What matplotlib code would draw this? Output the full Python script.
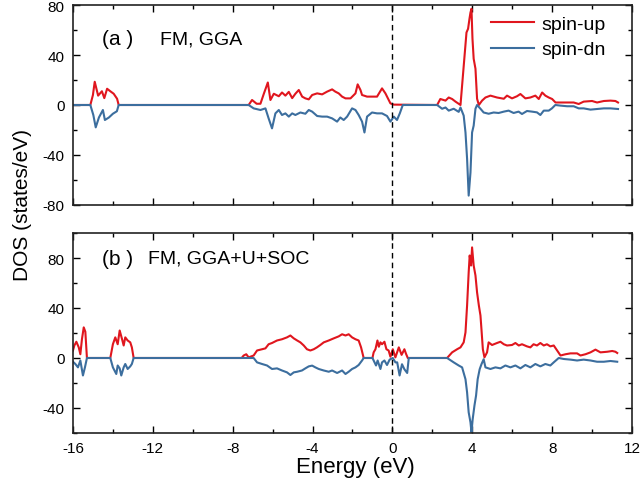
import matplotlib
matplotlib.use("Agg")
import matplotlib.pyplot as plt
from matplotlib.ticker import MultipleLocator

plt.rcParams['font.family'] = ['Liberation Sans', 'DejaVu Sans']
plt.rcParams['axes.unicode_minus'] = False

# ---- panel (a): FM, GGA ----
e_up_a = [-16.0, -15.13, -15.0, -14.91, -14.74, -14.55, -14.43, -14.29, -14.13, -13.96, -13.79, -13.71,
          -7.2, -7.03, -6.8, -6.61, -6.44, -6.24, -6.11, -5.94, -5.69, -5.53, -5.36, -5.19, -5.02,
          -4.86, -4.69, -4.52, -4.36, -4.19, -4.02, -3.77, -3.52, -3.27, -3.02, -2.86, -2.69, -2.52,
          -2.35, -2.1, -1.85, -1.74, -1.6, -1.52, -1.27, -1.02, -0.77, -0.52, -0.35, -0.1, 0.07,
          2.24, 2.4, 2.66, 2.82, 2.99, 3.16, 3.41, 3.57, 3.71, 3.79, 3.86, 3.91, 3.96, 4.01, 4.07,
          4.16, 4.24, 4.33, 4.49, 4.66, 4.91, 5.24, 5.58, 5.74, 5.99, 6.24, 6.41, 6.66, 6.91, 7.16,
          7.33, 7.5, 7.66, 7.83, 8.0, 8.17, 8.42, 8.75, 9.08, 9.33, 9.58, 10.0, 10.25, 10.59, 10.92,
          11.17, 11.3]
up_a = [0, 0, 8, 18.6, 7.5, 11, 5.5, 13, 11, 9, 5, 0,
        0, 4, 1, 1, 9, 18, 4, 9, 7, 10, 7.5, 10.5, 5.5,
        9, 12, 6.7, 5.3, 4.5, 8, 9.3, 8.5, 10.7, 12.5, 10.7, 9.3, 6.7,
        5.3, 5.3, 9.3, 16.5, 12, 8, 6.7, 6.7, 6.7, 13.3, 9.3, 1.3, 0.3,
        0, 4.8, 3.5, 6, 4.8, 2.7, 0, 31, 58, 61, 69, 74, 77, 53, 37,
        29, 5, 0, 3.5, 6, 7.5, 6, 5, 7.5, 5.3, 7, 8.8, 5.3, 6, 7.5,
        4.8, 10, 7.5, 6, 4.8, 2, 2, 2, 2, 0.8, 2.7, 3.2, 2, 3.2, 3.5,
        3.2, 2]

e_dn_a = [-16.0, -15.13, -14.98, -14.86, -14.7, -14.5, -14.4, -14.2, -14.0, -13.8, -13.71,
          -7.2, -6.95, -6.61, -6.36, -6.2, -6.03, -5.86, -5.69, -5.53, -5.36, -5.19, -5.02, -4.86,
          -4.61, -4.36, -4.19, -4.02, -3.77, -3.52, -3.27, -3.02, -2.77, -2.61, -2.44, -2.27, -2.02,
          -1.85, -1.69, -1.52, -1.4, -1.27, -1.02, -0.77, -0.52, -0.27, -0.1, 0.07, 0.23, 0.37, 0.52,
          2.24, 2.49, 2.66, 2.82, 3.07, 3.32, 3.41, 3.57, 3.66, 3.74, 3.82, 3.91, 3.99, 4.07, 4.16,
          4.24, 4.41, 4.57, 4.82, 5.07, 5.32, 5.58, 5.82, 6.07, 6.32, 6.49, 6.74, 6.99, 7.24, 7.41,
          7.58, 7.83, 7.99, 8.16, 8.42, 8.75, 9.08, 9.33, 9.58, 9.92, 10.25, 10.59, 10.92, 11.3]
dn_a = [0, 0, -8, -17.9, -10, -4, -12, -10, -7, -5, 0,
        0, -2.7, -4, -2.7, -10.7, -18.7, -6.7, -4, -8, -6.7, -9.3, -6.7, -8,
        -6, -7, -4, -5.3, -8.8, -9.3, -9.3, -10.7, -13.3, -10, -12, -9.3, -2.7,
        -4, -8, -13.3, -22, -9.3, -6, -6.7, -6.7, -8.8, -13.3, -9.3, -12, -6.7, 0,
        0, -3, -2, -4.5, -3, -5.5, -2, -8.5, -22, -43, -72.5, -54, -22, -16.5, -3,
        0, -3, -6, -7, -6, -6.4, -5.3, -4.5, -6.4, -5.3, -7.2, -4.8, -5.3, -5.9, -8,
        -4.5, -4.5, -2.7, 0, -0.5, -1, -1, -2.7, -2.7, -3.7, -3.2, -2.7, -2.7, -3.2]

# ---- panel (b): FM, GGA+U+SOC ----
e_up_b = [-16.0, -15.93, -15.83, -15.71, -15.63, -15.55, -15.46, -15.38, -15.3,
          -14.13, -14.0, -13.88, -13.76, -13.66, -13.54, -13.46, -13.38, -13.26, -13.13, -13.05, -12.96,
          -7.55, -7.45, -7.32, -7.2, -6.95, -6.78, -6.53, -6.36, -6.2, -6.03, -5.78, -5.53, -5.28,
          -5.11, -4.94, -4.77, -4.61, -4.44, -4.28, -4.11, -3.94, -3.78, -3.61, -3.44, -3.19, -2.94,
          -2.69, -2.52, -2.35, -2.19, -2.02, -1.85, -1.69, -1.57, -1.44,
          -1.0, -0.94, -0.85, -0.75, -0.68, -0.6, -0.52, -0.4, -0.3, -0.19, -0.1, 0.02, 0.15, 0.32,
          0.46, 0.6, 0.69, 0.77,
          2.74, 2.99, 3.24, 3.41, 3.57, 3.66, 3.74, 3.82, 3.87, 3.94, 3.99, 4.07, 4.16, 4.24, 4.33,
          4.41, 4.46, 4.53, 4.61, 4.74, 4.82, 4.99, 5.24, 5.41, 5.58, 5.74, 5.99, 6.16, 6.33, 6.49,
          6.74, 6.91, 7.07, 7.24, 7.41, 7.58, 7.74, 7.91, 8.08, 8.25, 8.42, 8.67, 8.92, 9.25, 9.42,
          9.67, 9.92, 10.17, 10.42, 10.76, 11.01, 11.17, 11.26]
up_b = [6, 10, 13, 8.5, 3, 15, 24.5, 21, 0,
        0, 11, 16.5, 11, 22, 15, 10, 16.5, 14, 12.5, 8.5, 0,
        0, 2, 3, 0.5, 2, 6, 7, 7.7, 11, 12, 14, 15, 16.5,
        18, 15.7, 14, 12.5, 10, 7, 6, 7, 8.5, 10.4, 12.5, 14, 15.7,
        17.3, 19, 18, 19, 16.5, 15, 14, 8.5, 0,
        0, 4.5, 7, 14, 9, 12.5, 11, 13, 7, 6, 1, 7, 0.5, 8.5,
        2.5, 7, 3, 0,
        0, 4.5, 7, 8.5, 12.5, 20.5, 42, 68.5, 82, 74, 88.5, 74, 66, 52.5, 42,
        34, 23, 7, 0.5, 4.5, 12.5, 10.4, 12, 13, 11, 10, 10.4, 12, 10, 11,
        9.3, 8.5, 11, 10, 12, 10, 11, 9.3, 10, 6, 2, 3, 3.7, 3.7, 2,
        3, 4.5, 6.7, 4.5, 5, 5.6, 5, 4]

e_dn_b = [-16.0, -15.88, -15.75, -15.63, -15.5, -15.4, -15.3,
          -14.13, -14.0, -13.83, -13.76, -13.66, -13.58, -13.46, -13.38, -13.26, -13.13, -13.05, -12.96,
          -6.95, -6.78, -6.53, -6.28, -6.03, -5.78, -5.53, -5.28, -5.11, -4.94, -4.77, -4.53, -4.36,
          -4.19, -4.02, -3.86, -3.69, -3.44, -3.19, -3.02, -2.77, -2.52, -2.35, -2.19, -2.02, -1.85,
          -1.69, -1.52, -1.44,
          -1.0, -0.94, -0.82, -0.74, -0.6, -0.52, -0.4, -0.27, -0.14, 0.02, 0.15, 0.24, 0.36, 0.48,
          0.6, 0.74, 0.82,
          2.74, 3.07, 3.32, 3.49, 3.66, 3.74, 3.82, 3.91, 3.96, 4.02, 4.11, 4.19, 4.27, 4.37, 4.46,
          4.57, 4.66, 4.91, 5.16, 5.41, 5.66, 5.91, 6.16, 6.41, 6.66, 6.91, 7.16, 7.41, 7.66, 7.91,
          8.08, 8.33, 8.58, 8.92, 9.25, 9.58, 9.92, 10.25, 10.59, 10.92, 11.26]
dn_b = [-3, -4.8, -7.5, -2, -14, -7.5, 0,
        0, -7.5, -12.8, -6, -8.3, -14, -7.5, -4.8, -8.8, -6.7, -4.8, 0,
        0, -3.5, -4.8, -6, -8.8, -8.3, -10, -11.5, -13.6, -11.5, -11, -10, -8.3,
        -6.7, -6.1, -7.5, -8.8, -10, -11, -10, -12, -10, -12.8, -11, -8.8, -7.5,
        -5.6, -2, 0,
        0, -2, -6, -2, -8.8, -3.5, -2, -5.6, -1.3, 0, -3.5, -3.5, -14, -5,
        -9, -12, 0,
        0, -3.5, -6, -7.5, -17, -27.5, -43.5, -51.5, -59.5, -49, -38, -30, -17, -9, -5,
        -1, -7.5, -8.8, -7.5, -8.3, -6, -7.5, -6, -8.3, -5.6, -7.5, -4.8, -6.7, -4.8, -6,
        -3.5, 0, -0.8, -1.3, -2, -1.3, -2, -3, -3, -2.4, -3]

red = '#e0161e'
blue = '#3c6e9e'

fig = plt.figure(figsize=(6.4, 4.85), dpi=100)
ax1 = fig.add_axes([0.114, 0.5753, 0.8735, 0.4123])
ax2 = fig.add_axes([0.114, 0.1052, 0.8735, 0.4123])

ax1.plot(e_up_a, up_a, color=red, lw=1.5, label='spin-up')
ax1.plot(e_dn_a, dn_a, color=blue, lw=1.5, label='spin-dn')
ax2.plot(e_up_b, up_b, color=red, lw=1.5)
ax2.plot(e_dn_b, dn_b, color=blue, lw=1.5)

ax1.set_ylim(-80, 80)
ax2.set_ylim(-60, 100)
ax1.set_yticks([-80, -40, 0, 40, 80])
ax2.set_yticks([-40, 0, 40, 80])

for ax in (ax1, ax2):
    ax.set_xlim(-16, 12)
    ax.axvline(0, color='black', lw=1, ls=(0, (4, 3)))
    ax.xaxis.set_major_locator(MultipleLocator(4))
    ax.xaxis.set_minor_locator(MultipleLocator(2))
    ax.yaxis.set_minor_locator(MultipleLocator(20))
    ax.tick_params(which='both', direction='in', top=True, right=True, labelsize=11)
    ax.tick_params(which='major', length=5, width=1)
    ax.tick_params(which='minor', length=3, width=1)
    ax.tick_params(axis='y', pad=6)
    ax.tick_params(axis='x', pad=6)
    for s in ax.spines.values():
        s.set_linewidth(1.2)
        s.set_color('#222222')

ax1.tick_params(labelbottom=False)

ax1.text(-14.53, 53, '(a )', fontsize=15, va='center')
ax1.text(-11.62, 53, 'FM, GGA', fontsize=14, va='center')
ax2.text(-14.53, 80, '(b )', fontsize=15, va='center')
ax2.text(-12.22, 80, 'FM, GGA+U+SOC', fontsize=14, va='center')

ax1.legend(loc='upper left', bbox_to_anchor=(0.748, 0.948), frameon=False, fontsize=14,
           handlelength=2.2, handletextpad=0.4, borderaxespad=0, borderpad=0,
           labelspacing=0.4)

fig.text(0.555, 0.037, 'Energy (eV)', fontsize=16, ha='center', va='center')
fig.text(0.035, 0.578, 'DOS (states/eV)', rotation=90, fontsize=15, va='center', ha='center')

fig.savefig('out.png', dpi=100)
